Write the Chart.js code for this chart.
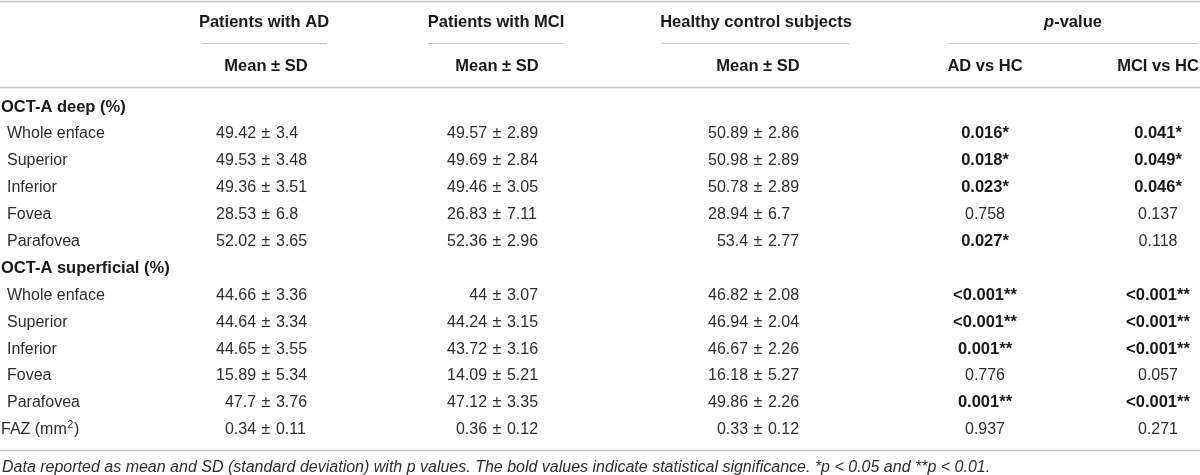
<!DOCTYPE html>
<html>
<head>
<meta charset="utf-8">
<script src="https://cdn.jsdelivr.net/npm/chart.js@4"></script>
<style>
  html, body { margin: 0; padding: 0; background: #fff; }
  #wrap { width: 1200px; height: 475px; position: relative; }
</style>
</head>
<body>
<div id="wrap"><canvas id="myChart"></canvas></div>
<script>
// Data
const rowLabels = ['OCT-A deep (%)', 'Whole enface', 'Superior', 'Inferior', 'Fovea', 'Parafovea',
  'OCT-A superficial (%)', 'Whole enface', 'Superior', 'Inferior', 'Fovea', 'Parafovea', 'FAZ (mm\u00b2)'];
const groupRows = [0, 6];
const adMean  = [null, 49.42, 49.53, 49.36, 28.53, 52.02, null, 44.66, 44.64, 44.65, 15.89, 47.7, 0.34];
const adSD    = [null, 3.4, 3.48, 3.51, 6.8, 3.65, null, 3.36, 3.34, 3.55, 5.34, 3.76, 0.11];
const mciMean = [null, 49.57, 49.69, 49.46, 26.83, 52.36, null, 44, 44.24, 43.72, 14.09, 47.12, 0.36];
const mciSD   = [null, 2.89, 2.84, 3.05, 7.11, 2.96, null, 3.07, 3.15, 3.16, 5.21, 3.35, 0.12];
const hcMean  = [null, 50.89, 50.98, 50.78, 28.94, 53.4, null, 46.82, 46.94, 46.67, 16.18, 49.86, 0.33];
const hcSD    = [null, 2.86, 2.89, 2.89, 6.7, 2.77, null, 2.08, 2.04, 2.26, 5.27, 2.26, 0.12];
const pAD  = [null, '0.016*', '0.018*', '0.023*', '0.758', '0.027*', null, '<0.001**', '<0.001**', '0.001**', '0.776', '0.001**', '0.937'];
const pMCI = [null, '0.041*', '0.049*', '0.046*', '0.137', '0.118', null, '<0.001**', '<0.001**', '<0.001**', '0.057', '<0.001**', '0.271'];
const groupHeaders = ['Patients with AD', 'Patients with MCI', 'Healthy control subjects', 'p-value'];
const subHeaders = ['Mean \u00b1 SD', 'Mean \u00b1 SD', 'Mean \u00b1 SD', 'AD vs HC', 'MCI vs HC'];
const footnote = 'Data reported as mean and SD (standard deviation) with p values. The bold values indicate statistical significance. *p < 0.05 and **p < 0.01.';

// Layout (x in px units, y in row units)
const colX = [266, 497, 758, 985, 1158];
const groupSpans = [[202, 327], [428, 563], [662, 849], [949, 1198]];
const groupCenters = [264, 496, 756, 1073];
const yHead = -3.16, yUnder = -2.38, ySub = -1.49, yRule = -0.74, yTop = -3.94, yBottom = 12.75, yNote = 13.4;

const FONT = '"Liberation Sans", Arial, sans-serif';
const TXT = '#2e2e2e';
const BOLD = '#1a1a1a';
const RULE = '#c4c4c4';
const PM_GAP = 5.5;

function cellData(col) {
  return rowLabels.map((l, i) => ({ x: colX[col], y: i }));
}

const tablePlugin = {
  id: 'tablePlugin',
  afterDatasetsDraw(chart) {
    const ctx = chart.ctx;
    const xs = chart.scales.x, ys = chart.scales.y;
    const X = v => xs.getPixelForValue(v);
    const Y = v => ys.getPixelForValue(v);
    ctx.save();
    ctx.textBaseline = 'middle';

    // rules
    const hline = (x0, x1, y, w, c) => {
      ctx.beginPath();
      ctx.strokeStyle = c;
      ctx.lineWidth = w;
      ctx.moveTo(X(x0), Math.round(Y(y)) + 0.5);
      ctx.lineTo(X(x1), Math.round(Y(y)) + 0.5);
      ctx.stroke();
    };
    hline(0, 1200, yTop, 1.5, RULE);
    hline(0, 1200, yRule, 1.5, RULE);
    hline(0, 1200, yBottom, 1.5, RULE);
    groupSpans.forEach(s => hline(s[0], s[1], yUnder, 1.2, RULE));

    // headers
    const HB = 'bold 16.5px ' + FONT;
    ctx.fillStyle = BOLD;
    ctx.textAlign = 'center';
    ctx.font = HB;
    groupHeaders.forEach((h, k) => {
      if (h === 'p-value') {
        ctx.font = 'italic ' + HB;
        const w1 = ctx.measureText('p').width;
        ctx.font = HB;
        const w2 = ctx.measureText('-value').width;
        const left = X(groupCenters[k]) - (w1 + w2) / 2;
        ctx.textAlign = 'left';
        ctx.font = 'italic ' + HB;
        ctx.fillText('p', left, Y(yHead));
        ctx.font = HB;
        ctx.fillText('-value', left + w1, Y(yHead));
        ctx.textAlign = 'center';
      } else {
        ctx.fillText(h, X(groupCenters[k]), Y(yHead));
      }
    });
    subHeaders.forEach((h, k) => ctx.fillText(h, X(colX[k]), Y(ySub)));

    // cells, placed at the points laid out by the scales
    chart.data.datasets.forEach((ds, di) => {
      const meta = chart.getDatasetMeta(di);
      meta.data.forEach((el, i) => {
        if (ds.kind === 'label') {
          const bold = groupRows.includes(i);
          ctx.font = (bold ? 'bold 16.5px ' : '16px ') + FONT;
          ctx.fillStyle = bold ? BOLD : TXT;
          ctx.textAlign = 'left';
          const lab = rowLabels[i];
          const k = lab.indexOf('\u00b2');
          if (k >= 0) {
            const a = lab.slice(0, k), b = lab.slice(k + 1);
            ctx.fillText(a, el.x, el.y);
            let w = ctx.measureText(a).width;
            ctx.font = '11px ' + FONT;
            ctx.fillText('2', el.x + w + 0.5, el.y - 5);
            w += ctx.measureText('2').width + 1;
            ctx.font = '16px ' + FONT;
            ctx.fillText(b, el.x + w, el.y);
          } else {
            ctx.fillText(lab, el.x, el.y);
          }
        } else if (ds.kind === 'mean') {
          if (ds.means[i] === null) return;
          ctx.font = '16px ' + FONT;
          ctx.fillStyle = TXT;
          const pmW = ctx.measureText('\u00b1').width;
          ctx.textAlign = 'right';
          ctx.fillText(String(ds.means[i]), el.x - pmW / 2 - PM_GAP, el.y);
          ctx.textAlign = 'center';
          ctx.fillText('\u00b1', el.x, el.y);
          ctx.textAlign = 'left';
          ctx.fillText(String(ds.sds[i]), el.x + pmW / 2 + PM_GAP, el.y);
        } else if (ds.kind === 'p') {
          const p = ds.pvals[i];
          if (p === null) return;
          const sig = p.indexOf('*') >= 0;
          ctx.font = (sig ? 'bold 16.5px ' : '16px ') + FONT;
          ctx.fillStyle = sig ? BOLD : TXT;
          ctx.textAlign = 'center';
          ctx.fillText(p, el.x, el.y);
        }
      });
    });

    // footnote
    ctx.font = 'italic 16px ' + FONT;
    ctx.fillStyle = TXT;
    ctx.textAlign = 'left';
    ctx.fillText(footnote, X(2), Y(yNote));
    ctx.restore();
  }
};

const rowUnit = 26.9;
const yMin = -107 / rowUnit;
const yMax = yMin + 475 / rowUnit;

const config = {
  type: 'scatter',
  data: {
    datasets: [
      { kind: 'label', data: rowLabels.map((l, i) => ({ x: (groupRows.includes(i) || i === 12) ? 1 : 7, y: i })) },
      { kind: 'mean', means: adMean, sds: adSD, data: cellData(0) },
      { kind: 'mean', means: mciMean, sds: mciSD, data: cellData(1) },
      { kind: 'mean', means: hcMean, sds: hcSD, data: cellData(2) },
      { kind: 'p', pvals: pAD, data: cellData(3) },
      { kind: 'p', pvals: pMCI, data: cellData(4) }
    ]
  },
  options: {
    responsive: true,
    maintainAspectRatio: false,
    animation: false,
    layout: { padding: 0 },
    elements: { point: { radius: 0, hoverRadius: 0 } },
    plugins: { legend: { display: false }, tooltip: { enabled: false } },
    scales: {
      x: { type: 'linear', min: 0, max: 1200, display: false },
      y: { type: 'linear', min: yMin, max: yMax, reverse: true, display: false }
    }
  },
  plugins: [tablePlugin]
};

window.myChart = new Chart(document.getElementById('myChart'), config);
</script>
</body>
</html>
